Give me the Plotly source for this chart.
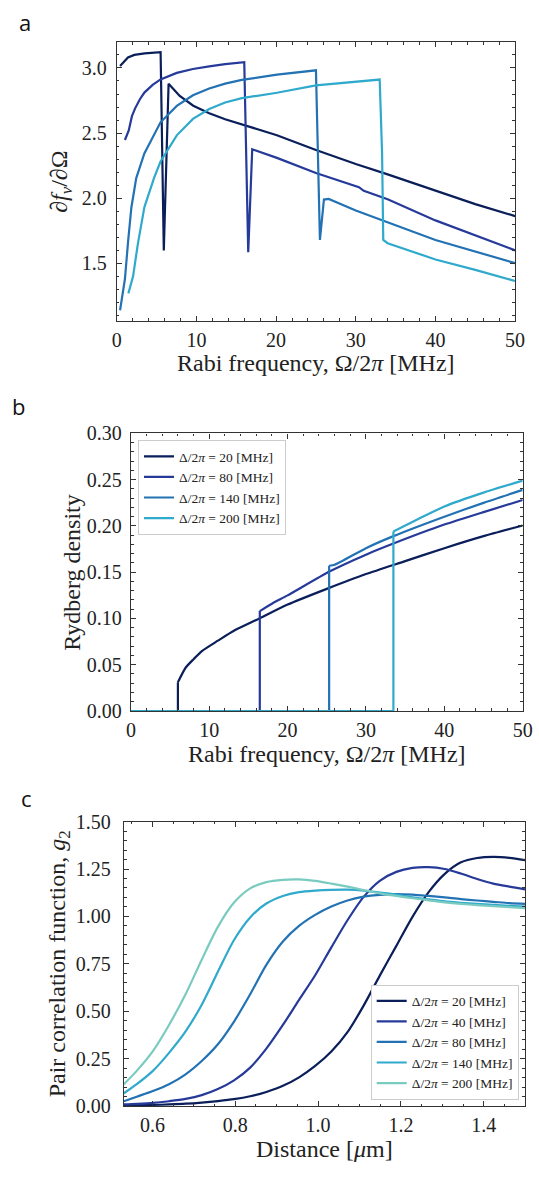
import plotly.graph_objects as go

# ---------------- Panel a: d f_v / d Omega ----------------
A20_x = [0.41, 0.8, 1.4, 2.2, 3.5, 5.5, 5.9, 6.5, 7.9, 9.6, 11.6, 13.6, 15.7, 17.7, 20.1, 25.0, 30.0, 34.0, 40.0, 45.0, 50.0]
A20_y = [3.015, 3.04, 3.08, 3.10, 3.112, 3.122, 1.60, 2.879, 2.785, 2.71, 2.652, 2.606, 2.566, 2.527, 2.484, 2.371, 2.263, 2.183, 2.057, 1.955, 1.863]

A80_x = [1.02, 1.5, 1.9, 2.3, 2.9, 3.46, 4.5, 5.49, 7.53, 9.56, 11.6, 13.6, 16.0, 16.5, 17.0, 20.1, 25.0, 29.8, 30.4, 31.0, 34.0, 40.0, 45.0, 50.0]
A80_y = [2.447, 2.52, 2.63, 2.69, 2.76, 2.811, 2.87, 2.912, 2.962, 2.992, 3.012, 3.03, 3.045, 1.585, 2.376, 2.31, 2.194, 2.093, 2.085, 2.057, 1.993, 1.83, 1.715, 1.60]

A140_x = [0.41, 1.02, 1.43, 1.83, 2.44, 3.46, 5.49, 7.53, 9.56, 11.6, 13.6, 15.7, 20.1, 25.0, 25.5, 26.0, 26.6, 30.0, 40.0, 45.0, 50.0]
A140_y = [1.14, 1.38, 1.677, 1.929, 2.155, 2.344, 2.583, 2.709, 2.79, 2.843, 2.88, 2.908, 2.949, 2.982, 1.68, 1.99, 1.995, 1.906, 1.68, 1.591, 1.502]

A200_x = [1.45, 2.04, 2.65, 3.46, 4.68, 5.49, 7.53, 9.56, 11.6, 13.6, 15.7, 20.1, 25.0, 30.0, 33.0, 33.3, 33.45, 34.0, 40.0, 45.0, 50.0]
A200_y = [1.27, 1.40, 1.652, 1.93, 2.156, 2.282, 2.483, 2.609, 2.685, 2.735, 2.768, 2.81, 2.866, 2.891, 2.911, 2.35, 1.68, 1.655, 1.53, 1.45, 1.365]

# ---------------- Panel b: Rydberg density ----------------
# where each density leaves zero, and the curve after the jump
B_jump = [6.0, 16.45, 25.3, 33.5]
B20_x = [6.0, 7.0, 8.0, 9.1, 11.1, 13.2, 16.4, 20.0, 25.0, 30.0, 35.0, 40.0, 45.0, 50.0]
B20_y = [0.031, 0.047, 0.056, 0.065, 0.076, 0.087, 0.100, 0.115, 0.132, 0.148, 0.162, 0.176, 0.189, 0.2005]

B80_x = [16.45, 18.0, 20.0, 25.4, 30.0, 33.5, 40.0, 45.0, 50.0]
B80_y = [0.108, 0.116, 0.125, 0.151, 0.169, 0.181, 0.2015, 0.215, 0.228]

B140_x = [25.3, 26.0, 30.0, 33.5, 40.0, 45.0, 50.0]
B140_y = [0.157, 0.158, 0.176, 0.189, 0.210, 0.225, 0.239]

B200_x = [33.5, 36.8, 40.0, 45.0, 50.0]
B200_y = [0.194, 0.208, 0.221, 0.236, 0.249]

# ---------------- Panel c: pair correlation g2 ----------------
C_x = [0.531, 0.562, 0.601, 0.640, 0.680, 0.719, 0.758, 0.797, 0.836, 0.875, 0.915, 0.954, 0.993,
       1.032, 1.071, 1.110, 1.149, 1.189, 1.228, 1.267, 1.306, 1.345, 1.384, 1.423, 1.462, 1.500]
C20_y = [0.002, 0.004, 0.006, 0.009, 0.013, 0.019, 0.027, 0.037, 0.052, 0.075, 0.107, 0.152, 0.212,
         0.288, 0.390, 0.530, 0.688, 0.845, 0.998, 1.128, 1.224, 1.285, 1.308, 1.314, 1.309, 1.297]
C40_y = [0.009, 0.012, 0.017, 0.026, 0.038, 0.058, 0.090, 0.136, 0.203, 0.303, 0.428, 0.560, 0.690,
         0.837, 0.980, 1.103, 1.188, 1.235, 1.256, 1.260, 1.250, 1.226, 1.197, 1.173, 1.157, 1.143]
C80_y = [0.026, 0.050, 0.080, 0.116, 0.168, 0.238, 0.326, 0.446, 0.590, 0.745, 0.868, 0.950, 1.008,
         1.052, 1.084, 1.104, 1.114, 1.118, 1.115, 1.108, 1.100, 1.091, 1.084, 1.077, 1.070, 1.066]
C140_y = [0.068, 0.116, 0.186, 0.281, 0.394, 0.535, 0.708, 0.876, 0.995, 1.068, 1.108, 1.128, 1.136,
          1.140, 1.141, 1.136, 1.126, 1.115, 1.101, 1.090, 1.079, 1.072, 1.066, 1.061, 1.056, 1.052]
C200_y = [0.116, 0.186, 0.290, 0.428, 0.590, 0.772, 0.945, 1.073, 1.148, 1.181, 1.193, 1.195, 1.187,
          1.173, 1.157, 1.139, 1.122, 1.108, 1.096, 1.085, 1.074, 1.066, 1.060, 1.054, 1.049, 1.044]

LEG_B = ["20", "80", "140", "200"]
LEG_C = ["20", "40", "80", "140", "200"]
COLS = ["#0a1e5a", "#263a9a", "#2272b4", "#2fa9cc", "#79cbbf"]

W, H = 539, 1178
SERIF = "Liberation Serif, Times New Roman, serif"
LW = 2.2

fig = go.Figure()

for xs, ys, c in zip([A20_x, A80_x, A140_x, A200_x], [A20_y, A80_y, A140_y, A200_y], COLS):
    fig.add_trace(go.Scatter(x=xs, y=ys, mode="lines", line=dict(color=c, width=LW),
                             xaxis="x", yaxis="y", showlegend=False, hoverinfo="skip"))

for j, xs, ys, c, lab in zip(B_jump, [B20_x, B80_x, B140_x, B200_x], [B20_y, B80_y, B140_y, B200_y], COLS, LEG_B):
    fig.add_trace(go.Scatter(x=[0, j, j], y=[0, 0, ys[0]], mode="lines", line=dict(color=c, width=LW),
                             xaxis="x2", yaxis="y2", showlegend=False, hoverinfo="skip"))
    fig.add_trace(go.Scatter(x=xs, y=ys, mode="lines",
                             line=dict(color=c, width=LW, shape="spline", smoothing=0.6),
                             xaxis="x2", yaxis="y2", legend="legend",
                             name="Δ/2<i>π</i> = %s [MHz]" % lab))

for ys, c, lab in zip([C20_y, C40_y, C80_y, C140_y, C200_y], COLS, LEG_C):
    fig.add_trace(go.Scatter(x=C_x, y=ys, mode="lines",
                             line=dict(color=c, width=LW, shape="spline", smoothing=0.8),
                             xaxis="x3", yaxis="y3", legend="legend2",
                             name="Δ/2<i>π</i> = %s [MHz]" % lab))


def ax(domain, rng, dtick, mdtick, fmt, tick0=0, anchor=None, standoff=3):
    return dict(domain=domain, range=rng, dtick=dtick, tick0=tick0, tickformat=fmt,
                showline=True, linecolor="#333", linewidth=1.3, mirror="ticks",
                ticks="inside", ticklen=5, tickwidth=1, tickcolor="#333",
                minor=dict(ticks="inside", ticklen=2.5, tickwidth=1, tickcolor="#333",
                           dtick=mdtick, tick0=tick0, showgrid=False),
                showgrid=False, zeroline=False, anchor=anchor,
                tickfont=dict(family=SERIF, size=20, color="#222"),
                ticklabelstandoff=standoff)


def px(v):
    return v / W


def py(v):
    return 1 - v / H


fig.update_layout(
    width=W, height=H, margin=dict(l=0, r=0, t=0, b=0),
    paper_bgcolor="white", plot_bgcolor="white",
    xaxis=ax([px(115), px(524.7)], [0, 50], 10, 2, "d", anchor="y", standoff=1),
    yaxis=ax([py(316), py(31.5)], [1.057, 3.2], 0.5, 0.1, ".1f", tick0=0, anchor="x", standoff=5),
    xaxis2=ax([px(129.5), px(532.5)], [0, 50], 10, 2, "d", anchor="y2", standoff=1),
    yaxis2=ax([py(713.3), py(430.5)], [0, 0.30], 0.05, 0.01, ".2f", anchor="x2", standoff=4),
    xaxis3=ax([px(122.3), px(535)], [0.531, 1.5], 0.2, 0.05, ".1f", tick0=0.6, anchor="y3", standoff=1),
    yaxis3=ax([py(1116), py(826)], [0, 1.5], 0.25, 0.05, ".2f", anchor="x3", standoff=8),
    legend=dict(x=px(136.8), y=py(437.3), xanchor="left", yanchor="top",
                bgcolor="white", bordercolor="#cccccc", borderwidth=1,
                font=dict(family=SERIF, size=13.5, color="#222"), tracegroupgap=0),
    legend2=dict(x=px(528.4), y=py(1109.3), xanchor="right", yanchor="bottom",
                 bgcolor="white", bordercolor="#cccccc", borderwidth=1,
                 font=dict(family=SERIF, size=13.5, color="#222"), tracegroupgap=0),
)

TF = dict(family=SERIF, size=24, color="#222")
ann = [
    dict(text="Rabi frequency, Ω/2<i>π</i> [MHz]", x=px(319.8), y=py(359), textangle=0),
    dict(text="∂<i>f</i><sub><i>v</i></sub>/∂Ω", x=px(58), y=py(173.7), textangle=-90),
    dict(text="Rabi frequency, Ω/2<i>π</i> [MHz]", x=px(331), y=py(757), textangle=0),
    dict(text="Rydberg density", x=px(68.7), y=py(571.7), textangle=-90),
    dict(text="Distance [<i>μ</i>m]", x=px(328.7), y=py(1160), textangle=0),
    dict(text="Pair correlation function, <i>g</i><sub>2</sub>", x=px(55), y=py(971), textangle=-90),
]
for a in ann:
    fig.add_annotation(xref="paper", yref="paper", showarrow=False, xanchor="center", yanchor="middle",
                       font=TF, **a)

PF = dict(family="Open Sans, DejaVu Sans, sans-serif", size=22, color="#111")
for t, x, y in [("a", 20.6, 11.7), ("b", 13.7, 403), ("c", 21.7, 801.7)]:
    fig.add_annotation(text=t, xref="paper", yref="paper", x=px(x), y=py(y), showarrow=False,
                       xanchor="center", yanchor="middle", font=PF)

fig.write_html("out.html", config={"displayModeBar": False},
               post_script="document.body.style.margin='0px';document.body.style.padding='0px';"
                           "document.documentElement.style.overflow='hidden';")
